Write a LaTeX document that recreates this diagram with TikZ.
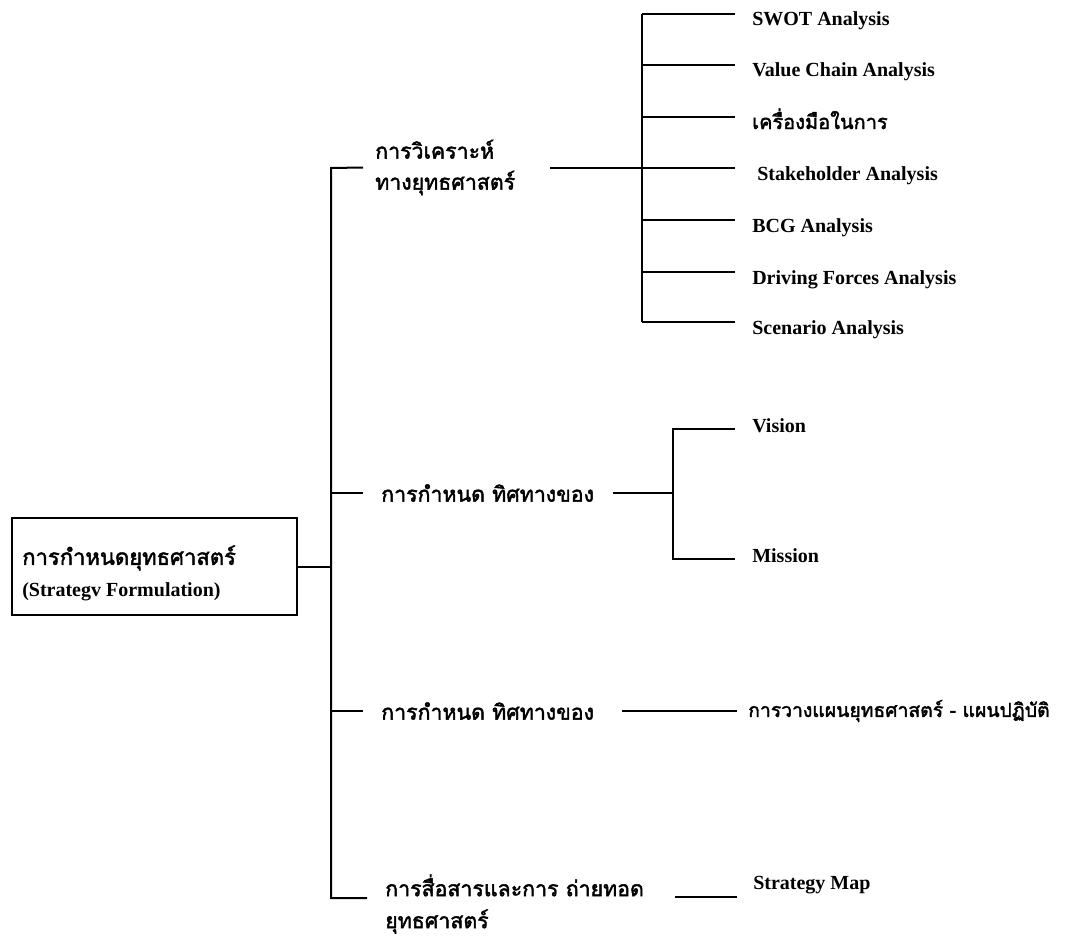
\documentclass[tikz,border=0pt]{standalone}
\usepackage{fontspec}
\setmainfont{Liberation Serif}
\newfontfamily\thaifont[Script=Thai, FakeBold=2]{Loma}
\tikzset{
  ln/.style={line width=1.5pt},
  latin/.style={font=\bfseries\fontsize{15}{18}\selectfont},
  thai/.style={font=\thaifont\fontsize{16}{23.25}\selectfont, align=left},
  leaf/.style={latin, anchor=west, inner xsep=12.75pt, inner ysep=0pt,
    text height=22pt, text depth=4pt},
  leafmid/.style={leaf, text height=9.2pt, text depth=4pt},
  leaflow/.style={leaf, text height=4pt, text depth=15.2pt}
}
\begin{document}
\begin{tikzpicture}[x=0.75pt, y=-0.75pt]
\useasboundingbox (0,0) rectangle (1069,938);
% root box
\node [draw, line width=1.1pt, minimum width=213.75pt, minimum height=72.75pt,
  inner sep=0pt] (root) at (154.5,566.5) {};
\node [thai, anchor=west, inner sep=0pt, font=\thaifont\fontsize{16.5}{20}\selectfont] (rootth) at (22,558) {การกำหนดยุทธศาสตร์};
\node [latin, anchor=west, inner sep=0pt] (rooten) at (22,592) {(Strategv Formulation)};
% main trunk
\coordinate (t1) at (331,168);
\coordinate (t2) at (331,493);
\coordinate (t3) at (331,711);
\coordinate (t4) at (331,898);
\coordinate (t4e) at (367,898);
\node [thai, anchor=west, inner xsep=9pt, inner ysep=0pt] (ana) at (363,167.5) {การวิเคราะห์\\ทางยุทธศาสตร์};
\node [thai, anchor=west, inner xsep=13.5pt, inner ysep=0pt] (dir) at (363,493) {การกำหนด ทิศทางของ};
\node [thai, anchor=west, inner xsep=13.5pt, inner ysep=0pt] (plan) at (363,711) {การกำหนด ทิศทางของ};
\node [thai, anchor=west, inner sep=0pt, font=\thaifont\fontsize{16}{24}\selectfont] (comm) at (385,904) {การสื่อสารและการ ถ่ายทอด\\ยุทธศาสตร์};
\draw [ln] (root.east) -- (root.east -| t1);
\draw [ln] (ana.west) -- (t1) -- (t4) -- (t4e);
\draw [ln] (t2) -- (dir.west);
\draw [ln] (t3) -- (plan.west);
% analysis tools
\coordinate (s1) at (550,168);
\coordinate (g1) at (642,168);
\node [leaf] (swot) at (735,14) {SWOT Analysis};
\node [leaf] (vca) at (735,65) {Value Chain Analysis};
\node [leaf, font=\thaifont\fontsize{15}{20}\selectfont] (tool) at (735,117) {เครื่องมือในการ};
\node [leaf] (stake) at (735,168) {\ Stakeholder Analysis};
\node [leaf] (bcg) at (735,220) {BCG Analysis};
\node [leaf] (drive) at (735,272) {Driving Forces Analysis};
\node [leaf] (scen) at (735,322) {Scenario Analysis};
\draw [ln] (s1) -- (g1);
\draw [ln] (swot.west -| g1) -- (scen.west -| g1);
\draw [ln] (swot.west -| g1) -- (swot.west);
\draw [ln] (vca.west -| g1) -- (vca.west);
\draw [ln] (tool.west -| g1) -- (tool.west);
\draw [ln] (stake.west -| g1) -- (stake.west);
\draw [ln] (bcg.west -| g1) -- (bcg.west);
\draw [ln] (drive.west -| g1) -- (drive.west);
\draw [ln] (scen.west -| g1) -- (scen.west);
% vision and mission
\coordinate (s2) at (613,493);
\coordinate (g2) at (673,493);
\node [leafmid] (vis) at (735,429) {Vision};
\node [leafmid] (mis) at (735,559) {Mission};
\draw [ln] (s2) -- (g2);
\draw [ln] (vis.west) -- (vis.west -| g2) -- (mis.west -| g2) -- (mis.west);
% plan
\coordinate (s3) at (622,711);
\node [thai, anchor=west, inner xsep=8.25pt, inner ysep=0pt, font=\thaifont\fontsize{14.5}{20}\selectfont] (act) at (737,711) {การวางแผนยุทธศาสตร์ - แผนปฏิบัติ};
\draw [ln] (s3) -- (act.west);
% strategy map
\coordinate (s4) at (675,897);
\node [leaflow, inner xsep=12pt] (smap) at (737,897) {Strategy Map};
\draw [ln] (s4) -- (smap.west);
\end{tikzpicture}
\end{document}
